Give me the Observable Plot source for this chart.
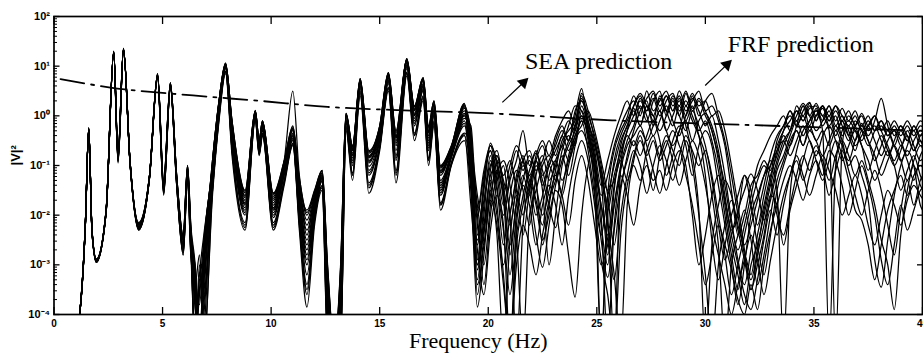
<!DOCTYPE html>
<html><head><meta charset="utf-8">
<script src="https://cdn.jsdelivr.net/npm/d3@7"></script>
<script src="https://cdn.jsdelivr.net/npm/@observablehq/plot@0.6"></script>
<style>html,body{margin:0;padding:0;background:#fff;} #chart svg{display:block;}</style>
</head><body><div id="chart"></div>
<script>
// Frequency grid (Hz) at which the FRF curves were read
const freq = [1.0,1.45,1.6,1.75,1.95,2.4,2.75,2.95,3.2,3.5,3.9,4.4,4.77,5.05,5.36,5.65,5.95,6.15,6.3,6.5,6.7,6.9,7.3,7.6,7.9,8.2,8.8,9.27,9.45,9.6,10.1,10.6,11.0,11.3,11.65,12.0,12.35,12.6,12.9,13.2,13.45,13.75,14.1,14.5,15.0,15.4,15.75,16.25,16.6,17.0,17.25,17.5,17.8,18.3,18.9,
19.2,19.5,19.8,20.1,20.4,20.7,21.0,21.3,21.6,21.9,22.2,22.5,22.8,23.1,23.4,23.7,24.0,24.3,24.6,24.9,25.2,25.5,25.8,26.1,26.4,26.7,27.0,27.3,27.6,27.9,28.2,28.5,28.8,29.1,29.4,29.7,30.0,30.3,30.6,30.9,31.2,31.5,31.8,32.1,32.4,32.7,33.0,33.3,33.6,33.9,34.2,34.5,34.8,35.1,35.4,35.7,36.0,36.3,36.6,36.9,37.2,37.5,37.8,38.1,38.4,38.7,39.0,39.3,39.6,39.9,40.2];

// FRF predictions: exponent of |V|^2 (log10) at each grid frequency
const frf01 = [-4.6,-2.1,-0.24,-2.3,-2.88,-1.9,1.3,-0.75,1.36,-0.9,-2.15,-1.2,0.85,-1.3,0.67,-1.2,-2.4,-1.0,-2.2,-3.0,-4.6,-3.0,-0.9,0.3,1.05,-0.1,-1.5,0.1,-0.5,-0.1,-1.55,-0.9,0.5,-1.2,-1.9,-1.5,-1.1,-3.0,-4.6,-3.0,0.05,-0.6,0.75,-0.7,-0.2,0.87,-0.3,1.15,0.2,0.77,-0.2,0.3,-1.0,-0.6,0.25,
-1.2,-2.6,-1.5,-0.6,-1.2,-2.0,-1.3,-0.9,-0.3,-1.0,-0.7,-1.2,-0.9,-0.6,-0.3,-0.5,0.0,0.55,-0.3,-0.8,-1.6,-1.2,-0.6,-0.2,0.1,0.3,0.0,0.5,0.1,0.3,0.5,0.2,0.4,0.1,0.3,0.5,0.1,0.2,-0.1,-0.6,-1.5,-2.4,-2.0,-1.4,-1.2,-0.9,-1.1,-0.5,-0.2,0.0,-0.2,0.1,0.27,-0.1,0.2,-0.2,0.0,-0.4,-0.2,-0.5,-0.15,-0.4,-0.1,0.35,-0.2,-0.6,-0.3,-0.5,-0.3,-0.6,-0.5];
const frf02 = [-4.6,-2.12,-0.26,-2.32,-2.9,-1.92,1.28,-0.8,1.34,-0.92,-2.2,-1.22,0.82,-1.38,0.64,-1.25,-2.5,-1.05,-2.4,-3.6,-3.8,-2.6,-1.0,0.25,1.0,-0.2,-1.65,0.05,-0.55,-0.15,-1.7,-1.0,-0.3,-1.5,-2.3,-1.7,-1.2,-3.4,-4.6,-3.5,0.0,-0.7,0.7,-0.85,-0.3,0.8,-0.45,1.1,0.1,0.7,-0.35,0.2,-1.2,-0.7,0.1,
-0.6,-3.0,-1.8,-0.8,-1.8,-3.2,-4.6,-2.2,-1.3,-0.9,-1.4,-2.0,-1.5,-0.9,-0.6,-0.2,0.2,0.1,-0.5,-1.5,-4.6,-2.0,-0.9,-0.4,-0.1,0.2,0.4,0.1,0.35,0.0,0.3,0.45,0.1,0.3,0.0,-0.4,-1.2,-2.5,-3.3,-2.6,-2.0,-1.6,-1.2,-1.5,-2.2,-1.6,-1.0,-0.6,-0.3,-0.1,0.1,-0.1,0.15,0.2,-0.1,0.1,-0.3,-0.1,-0.4,-0.1,-0.3,-0.6,-0.3,-0.1,-0.4,-0.3,-0.6,-0.4,-0.7,-0.5,-0.8];
const frf03 = [-4.6,-2.1,-0.25,-2.3,-2.92,-1.9,1.3,-0.85,1.35,-0.9,-2.25,-1.2,0.84,-1.45,0.62,-1.3,-2.6,-1.1,-2.5,-4.6,-3.2,-2.4,-1.1,0.2,1.02,-0.3,-1.8,0.08,-0.6,-0.2,-1.85,-1.1,-0.4,-1.7,-2.7,-1.8,-1.25,-3.8,-4.6,-3.8,-0.1,-0.8,0.65,-0.95,-0.35,0.75,-0.6,1.05,0.0,0.6,-0.5,0.1,-1.4,-0.8,0.0,
-0.9,-3.6,-2.4,-1.2,-1.0,-1.6,-2.6,-1.8,-1.2,-1.6,-1.0,-1.5,-3.0,-2.0,-1.0,-0.6,-0.3,0.3,-0.1,-0.6,-1.3,-2.8,-1.8,-1.0,-0.5,-0.2,0.2,-0.1,0.3,0.5,0.0,0.3,0.0,0.45,0.1,0.3,0.0,-0.3,-0.9,-1.8,-2.6,-3.2,-3.8,-3.0,-2.6,-2.0,-1.4,-0.9,-0.5,-0.3,0.0,0.25,0.0,-0.3,-0.1,0.2,-0.2,0.0,-0.3,-0.6,-0.4,-0.2,-0.5,-0.8,-0.5,-0.3,-0.5,-0.8,-0.5,-0.3,-0.4];
const frf04 = [-4.6,-2.15,-0.28,-2.35,-2.95,-1.95,1.25,-0.95,1.32,-0.95,-2.3,-1.25,0.78,-1.6,0.55,-1.4,-2.8,-1.3,-2.8,-3.4,-2.8,-4.6,-1.6,-0.1,0.85,-0.8,-2.3,-0.1,-0.8,-0.4,-2.3,-1.4,-0.6,-2.3,-3.85,-2.2,-1.5,-4.6,-4.6,-4.6,-0.3,-1.3,0.4,-1.56,-0.7,0.5,-1.35,0.8,-0.5,0.3,-1.0,-0.2,-1.9,-1.0,-0.5,
-1.5,-3.85,-2.8,-1.5,-2.4,-4.6,-2.5,-1.6,-2.0,-1.3,-1.8,-2.5,-2.0,-1.5,-1.8,-2.8,-3.65,-2.0,-1.0,-0.6,-1.2,-2.2,-3.2,-4.6,-1.8,-0.9,-0.5,-0.9,-1.5,-0.8,-0.4,-0.7,-1.0,-0.5,-1.0,-2.0,-3.2,-4.6,-3.0,-2.2,-1.7,-2.3,-2.9,-3.5,-2.8,-2.2,-1.6,-1.8,-2.6,-1.9,-1.4,-0.9,-0.5,-0.9,-1.3,-0.9,-0.5,-0.8,-1.3,-1.9,-2.1,-2.6,-3.3,-2.6,-1.9,-1.5,-1.2,-1.6,-1.2,-1.0,-1.2];
const frf05 = [-4.6,-2.1,-0.24,-2.3,-2.9,-1.9,1.3,-0.78,1.36,-0.9,-2.18,-1.2,0.83,-1.35,0.66,-1.22,-2.45,-1.02,-2.3,-3.3,-4.6,-3.2,-0.95,0.28,1.04,-0.15,-1.6,0.1,-0.52,-0.12,-1.62,-0.95,-0.25,-1.4,-2.1,-1.6,-1.15,-3.2,-4.6,-3.2,0.03,-0.65,0.72,-0.8,-0.25,0.84,-0.4,1.12,0.15,0.74,-0.3,0.25,-1.1,-0.65,0.2,
-0.4,-2.2,-3.0,-1.8,-0.9,-1.3,-2.0,-4.6,-2.2,-1.4,-0.9,-1.3,-1.8,-2.25,-1.5,-0.8,-0.4,-0.2,0.1,-0.3,-0.9,-1.6,-2.6,-1.5,-0.8,-0.3,0.1,0.3,-0.2,0.1,-0.3,0.0,0.3,-0.2,-0.8,-1.9,-4.6,-2.6,-1.8,-1.3,-1.6,-2.2,-2.6,-2.2,-1.7,-1.2,-0.9,-1.5,-4.6,-1.6,-0.7,-0.3,-0.1,0.1,-0.3,-4.6,-1.0,-0.3,-0.1,-0.3,-0.6,-0.9,-1.3,-1.0,-0.7,-1.0,-1.5,-1.1,-0.8,-1.2,-1.5];
const frf06 = [-4.6,-2.12,-0.25,-2.32,-2.9,-1.92,1.29,-0.82,1.35,-0.92,-2.22,-1.22,0.8,-1.42,0.6,-1.28,-2.55,-1.08,-2.45,-4.6,-3.5,-2.5,-1.05,0.22,1.0,-0.25,-1.75,0.06,-0.58,-0.18,-1.8,-1.05,-0.35,-1.6,-2.5,-1.75,-1.22,-3.6,-4.6,-3.6,-0.05,-0.75,0.68,-0.9,-0.32,0.78,-0.5,1.08,0.05,0.65,-0.4,0.15,-1.3,-0.75,0.05,
-0.5,-2.9,-1.3,-0.7,-1.4,-2.6,-1.6,-1.1,-1.5,-2.2,-1.2,-0.8,-1.3,-1.0,-0.5,-0.3,-0.1,0.35,0.0,-0.4,-1.0,-1.9,-1.2,-0.7,-0.3,0.0,0.3,0.0,-0.4,-0.1,0.2,-0.1,-0.4,0.0,0.35,0.1,-0.2,0.0,-0.5,-1.2,-2.1,-2.9,-3.4,-2.7,-2.0,-1.4,-0.8,-0.4,-0.2,0.1,-0.2,0.0,-0.3,0.0,0.2,-0.1,0.1,-0.2,-0.5,-0.2,0.0,-0.3,-0.2,-0.5,-0.8,-0.5,-0.2,-0.4,-0.7,-0.4,-0.3];
const frf07 = [-4.6,-2.14,-0.27,-2.34,-2.93,-1.94,1.27,-0.88,1.33,-0.94,-2.27,-1.24,0.8,-1.5,0.58,-1.35,-2.7,-1.2,-2.6,-3.0,-4.6,-4.0,-1.3,0.05,0.95,-0.5,-2.0,0.0,-0.7,-0.3,-2.0,-1.2,-0.45,-1.9,-3.0,-1.95,-1.3,-4.0,-4.6,-4.2,-0.15,-1.0,0.55,-1.2,-0.5,0.65,-0.9,0.95,-0.2,0.5,-0.7,0.0,-1.6,-0.85,-0.2,
-1.0,-3.3,-2.0,-0.9,-1.5,-2.3,-3.6,-2.4,-1.6,-1.1,-0.75,-1.1,-1.6,-1.3,-0.8,-1.2,-0.6,0.0,-0.4,-1.0,-2.0,-4.6,-2.2,-1.1,-0.6,-0.4,-0.2,-0.6,-1.1,-1.56,-1.0,-0.5,-0.2,-0.6,-1.2,-0.6,-0.3,-0.6,-1.4,-2.2,-3.0,-3.8,-3.0,-2.0,-1.6,-1.2,-1.0,-0.7,-0.5,-0.8,-0.5,-0.2,-0.5,-0.8,-0.4,-0.2,-0.5,-0.9,-0.6,-0.3,-0.6,-1.1,-0.7,-0.4,-0.7,-1.0,-0.7,-0.3,-0.6,-0.9,-0.7];
const frf08 = [-4.6,-2.13,-0.26,-2.33,-2.92,-1.93,1.28,-0.9,1.34,-0.93,-2.24,-1.23,0.81,-1.48,0.6,-1.32,-2.65,-1.15,-2.55,-3.8,-4.6,-3.0,-1.2,0.1,0.97,-0.4,-1.9,0.02,-0.65,-0.25,-1.95,-1.15,-0.5,-1.8,-2.9,-1.9,-1.28,-3.9,-4.6,-4.0,-0.12,-0.9,0.6,-1.1,-0.45,0.7,-0.8,1.0,-0.1,0.55,-0.6,0.05,-1.5,-0.8,-0.1,
-0.8,-2.0,-3.4,-2.0,-1.2,-0.9,-1.4,-2.4,-4.6,-2.0,-1.5,-1.0,-0.8,-1.1,-1.6,-1.0,-0.5,-0.3,-0.6,-1.1,-1.8,-2.5,-3.3,-2.0,-1.2,-0.7,-1.0,-1.56,-1.0,-0.6,-0.9,-1.3,-0.8,-0.4,-0.7,-1.0,-0.7,-1.2,-2.0,-2.8,-3.6,-3.0,-2.4,-1.8,-1.3,-1.0,-1.3,-2.0,-2.4,-1.8,-1.2,-0.8,-1.1,-0.7,-0.9,-1.3,-0.8,-0.5,-0.8,-1.2,-0.9,-1.3,-1.8,-2.5,-3.0,-3.9,-2.4,-1.5,-1.0,-1.4,-1.6];
const frf09 = [-4.6,-2.1,-0.24,-2.3,-2.89,-1.9,1.3,-0.76,1.36,-0.9,-2.17,-1.2,0.84,-1.32,0.66,-1.21,-2.42,-1.01,-2.25,-3.1,-4.6,-3.4,-0.92,0.29,1.06,-0.12,-1.55,0.11,-0.5,-0.1,-1.58,-0.92,-0.2,-1.3,-2.0,-1.55,-1.12,-3.1,-4.6,-3.1,0.04,-0.62,0.74,-0.75,-0.22,0.86,-0.35,1.14,0.18,0.76,-0.25,0.28,-1.05,-0.62,0.22,
-1.3,-2.5,-1.7,-1.0,-0.8,-1.5,-2.8,-1.7,-1.0,-1.3,-2.0,-1.6,-1.0,-0.7,-0.4,-0.1,-0.3,0.2,-0.2,-0.5,-1.1,-1.5,-1.0,-0.5,-0.2,0.15,-0.2,0.2,0.0,-0.3,0.0,0.35,0.0,-0.3,0.1,-0.2,-0.6,-1.3,-2.2,-2.9,-2.4,-1.9,-1.5,-1.17,-1.5,-2.1,-1.7,-1.1,-0.8,-0.4,-0.1,-0.4,-0.1,0.1,0.0,-0.3,-4.6,-0.6,0.0,-0.2,-0.5,-0.2,0.0,-0.3,-0.6,-0.9,-0.6,-0.9,-1.3,-0.8,-0.6];
const frf10 = [-4.6,-2.14,-0.27,-2.34,-2.94,-1.94,1.26,-0.92,1.33,-0.94,-2.28,-1.24,0.79,-1.55,0.57,-1.38,-2.75,-1.25,-2.7,-4.6,-3.0,-3.6,-1.45,0.0,0.9,-0.65,-2.15,-0.05,-0.75,-0.35,-2.15,-1.3,-0.55,-2.1,-3.4,-2.05,-1.4,-4.3,-4.6,-4.4,-0.2,-1.15,0.5,-1.35,-0.6,0.58,-1.1,0.88,-0.35,0.4,-0.85,-0.1,-1.75,-0.95,-0.35,
-0.7,-3.1,-2.2,-1.3,-2.0,-3.0,-2.0,-1.3,-0.9,-1.5,-2.4,-3.05,-2.2,-1.4,-0.9,-0.5,-0.2,0.0,-0.4,-1.3,-2.5,-3.25,-2.3,-1.4,-0.9,-0.5,-0.8,-0.4,-0.1,-0.5,-1.2,-0.8,-0.3,-0.1,-0.5,-0.1,0.05,-0.2,-0.7,-1.6,-2.3,-2.0,-1.2,-1.8,-2.6,-3.2,-2.4,-1.5,-1.0,-0.6,-0.3,-0.6,-0.3,-0.5,-0.8,-0.5,-0.2,-0.5,-1.0,-0.8,-1.2,-1.7,-2.9,-3.45,-2.5,-1.6,-1.0,-0.7,-1.0,-1.8,-2.0];
const frf11 = [-4.6,-2.11,-0.25,-2.31,-2.91,-1.91,1.29,-0.8,1.35,-0.91,-2.2,-1.21,0.82,-1.4,0.63,-1.26,-2.5,-1.06,-2.35,-3.5,-4.6,-2.8,-1.0,0.26,1.03,-0.18,-1.7,0.07,-0.56,-0.16,-1.75,-1.02,-0.28,-1.45,-2.2,-1.65,-1.18,-3.3,-4.6,-3.3,0.01,-0.68,0.71,-0.82,-0.28,0.82,-0.42,1.11,0.12,0.72,-0.32,0.22,-1.15,-0.68,0.15,
-0.3,-2.4,-1.4,-0.55,-1.0,-1.8,-1.2,-0.7,-1.1,-0.8,-1.1,-0.9,-0.5,-0.8,-0.4,-0.7,-0.2,0.4,-0.2,-0.9,-4.6,-1.6,-0.7,-0.3,-0.03,0.4,0.15,0.35,0.5,0.2,0.4,0.1,0.5,0.2,0.45,0.2,0.3,0.0,0.1,-0.3,-1.0,-1.8,-2.7,-3.5,-3.0,-2.4,-1.6,-1.0,-0.6,-0.3,0.1,-0.1,0.2,0.0,0.15,-0.1,0.2,0.0,-0.2,0.0,-0.3,-0.1,-0.3,-0.2,-0.4,-0.2,-0.4,-0.2,-0.4,-0.2,-0.3];
const frf12 = [-4.6,-2.15,-0.28,-2.35,-2.95,-1.95,1.25,-0.93,1.32,-0.95,-2.3,-1.25,0.77,-1.58,0.56,-1.4,-2.8,-1.28,-2.75,-3.2,-4.6,-4.6,-1.5,-0.05,0.88,-0.7,-2.25,-0.08,-0.78,-0.38,-2.25,-1.35,-0.58,-2.2,-3.6,-2.1,-1.45,-4.5,-4.6,-4.6,-0.25,-1.2,0.45,-1.45,-0.65,0.55,-1.2,0.85,-0.4,0.35,-0.9,-0.15,-1.8,-0.98,-0.4,
-1.1,-2.7,-3.6,-2.3,-1.6,-2.2,-4.6,-2.6,-1.8,-1.2,-1.7,-2.2,-1.2,-0.9,-1.3,-0.9,-0.4,-0.1,-0.7,-1.6,-2.4,-1.6,-1.3,-0.9,-1.3,-0.8,-0.4,-0.8,-0.5,-0.9,-0.6,-0.3,-0.6,-1.0,-2.0,-3.0,-2.4,-1.6,-1.2,-1.7,-2.4,-3.0,-3.6,-3.9,-3.3,-2.5,-1.9,-2.4,-1.8,-1.2,-0.8,-1.2,-1.6,-1.2,-0.8,-1.1,-1.5,-2.0,-1.6,-1.2,-1.6,-2.2,-2.6,-2.0,-1.5,-1.8,-2.2,-1.7,-1.4,-1.6,-1.8];
const frf13 = [-4.6,-2.11,-0.25,-2.31,-2.9,-1.91,1.29,-0.79,1.35,-0.91,-2.19,-1.21,0.83,-1.37,0.65,-1.24,-2.48,-1.04,-2.38,-3.4,-4.6,-3.6,-0.98,0.27,1.03,-0.17,-1.62,0.09,-0.53,-0.13,-1.66,-0.97,-0.26,-1.42,-2.4,-1.62,-1.16,-3.25,-4.6,-3.4,0.02,-0.66,0.72,-0.84,-0.27,0.83,-0.44,1.12,0.13,0.73,-0.33,0.23,-1.12,-0.66,0.18,
-0.9,-2.0,-1.2,-0.7,-1.3,-1.0,-1.9,-1.2,-0.8,-1.2,-0.9,-1.4,-1.0,-1.3,-0.7,-0.4,-0.6,0.1,-0.3,-1.1,-2.2,-3.0,-1.5,-0.6,-0.2,0.1,-0.2,0.2,-0.1,0.4,0.1,-0.2,0.2,-0.1,0.2,-0.3,-0.1,-0.5,-1.1,-2.0,-2.8,-3.5,-2.8,-3.2,-2.4,-1.8,-1.2,-0.8,-0.4,-0.6,-0.2,0.2,-0.2,0.15,-0.2,0.0,-0.4,-0.1,-0.4,-0.7,-0.3,-0.5,-0.9,-0.6,-0.3,-0.6,-0.9,-0.6,-0.2,-0.5,-0.7];
const frf14 = [-4.6,-2.13,-0.27,-2.33,-2.93,-1.93,1.27,-0.87,1.33,-0.93,-2.26,-1.23,0.8,-1.52,0.59,-1.34,-2.68,-1.18,-2.58,-4.6,-3.3,-3.2,-1.25,0.08,0.96,-0.45,-1.95,0.01,-0.68,-0.28,-2.05,-1.18,-0.48,-1.95,-3.2,-2.0,-1.32,-4.1,-4.6,-4.1,-0.14,-0.95,0.58,-1.15,-0.48,0.68,-0.85,0.98,-0.15,0.52,-0.65,0.02,-1.55,-0.82,-0.15,
-1.4,-3.4,-2.6,-1.6,-1.1,-1.7,-3.2,-2.0,-1.4,-1.8,-2.6,-1.8,-1.4,-1.8,-2.6,-1.6,-0.9,-0.5,-0.9,-1.8,-2.9,-3.6,-4.6,-2.4,-1.4,-1.0,-1.3,-0.7,-0.4,-0.8,-0.5,-0.9,-1.4,-0.9,-0.5,-0.8,-1.4,-2.2,-2.8,-3.4,-4.0,-3.4,-2.9,-2.4,-2.9,-3.6,-2.9,-2.2,-1.6,-1.2,-0.9,-1.3,-0.9,-0.6,-1.0,-1.6,-1.1,-0.7,-1.1,-1.6,-2.0,-1.5,-1.1,-1.5,-2.2,-2.8,-1.9,-1.3,-1.8,-1.3,-1.1];
const frf15 = [-4.6,-2.12,-0.26,-2.32,-2.91,-1.92,1.28,-0.84,1.34,-0.92,-2.23,-1.22,0.81,-1.44,0.61,-1.3,-2.58,-1.12,-2.5,-3.9,-4.6,-2.7,-1.08,0.18,0.99,-0.28,-1.78,0.04,-0.6,-0.2,-1.88,-1.08,-0.38,-1.65,-2.6,-1.78,-1.24,-3.7,-4.6,-3.7,-0.08,-0.78,0.66,-0.92,-0.34,0.76,-0.55,1.06,0.02,0.62,-0.45,0.12,-1.35,-0.78,0.02,
-0.6,-1.8,-2.6,-1.4,-0.8,-1.2,-0.9,-1.5,-2.4,-1.5,-0.9,-0.6,-1.0,-0.5,-0.2,-0.5,0.1,0.3,-0.1,-0.7,-1.4,-0.9,-0.4,0.0,0.3,0.0,0.35,0.1,0.45,0.1,0.4,0.1,0.35,0.0,0.4,0.0,0.3,0.45,0.0,-0.5,-1.2,-2.0,-2.8,-3.3,-2.7,-1.9,-1.3,-0.7,-0.3,0.1,-0.1,0.2,0.0,0.25,0.0,0.2,-0.1,0.15,-0.1,0.1,-0.2,0.0,-0.3,-0.1,-0.3,-0.1,-0.3,-0.1,-0.3,-0.1,-0.2];
const frf16 = [-4.6,-2.14,-0.28,-2.34,-2.94,-1.94,1.26,-0.91,1.33,-0.94,-2.29,-1.24,0.79,-1.56,0.57,-1.38,-2.76,-1.26,-2.72,-3.6,-4.6,-3.8,-1.5,-0.02,0.9,-0.68,-2.2,-0.06,-0.76,-0.36,-2.2,-1.32,-0.56,-2.15,-3.5,-2.08,-1.42,-4.4,-4.6,-4.5,-0.22,-1.18,0.48,-1.4,-0.62,0.56,-1.15,0.86,-0.38,0.38,-0.88,-0.12,-1.78,-0.96,-0.38,
-1.8,-3.0,-2.3,-1.7,-2.2,-3.4,-4.6,-3.0,-2.2,-2.6,-3.2,-2.4,-1.7,-1.2,-1.6,-2.2,-1.3,-0.8,-1.3,-2.2,-3.0,-2.6,-1.8,-1.2,-1.6,-2.2,-1.4,-1.0,-1.3,-1.1,-1.5,-1.0,-0.7,-1.2,-1.8,-2.6,-3.4,-2.8,-2.2,-2.6,-3.1,-3.7,-4.0,-3.4,-3.9,-3.0,-2.3,-1.8,-1.3,-1.0,-1.3,-1.7,-1.2,-0.9,-1.2,-0.7,-0.9,-1.4,-2.0,-1.5,-1.0,-1.4,-2.0,-2.9,-3.4,-2.6,-1.8,-2.3,-1.9,-1.5,-1.4];
const frf17 = [-4.6,-2.1,-0.24,-2.3,-2.89,-1.9,1.3,-0.77,1.36,-0.9,-2.16,-1.2,0.85,-1.31,0.67,-1.2,-2.41,-1.0,-2.22,-4.6,-3.6,-2.9,-0.9,0.3,1.06,-0.11,-1.52,0.1,-0.5,-0.1,-1.56,-0.91,-0.22,-1.25,-1.95,-1.52,-1.1,-3.05,-4.6,-3.05,0.05,-0.61,0.75,-0.72,-0.21,0.87,-0.32,1.15,0.19,0.77,-0.22,0.3,-1.02,-0.61,0.24,
-0.5,-1.6,-2.2,-1.1,-0.7,-1.4,-2.2,-1.4,-0.9,-0.7,-1.3,-2.6,-1.8,-1.1,-0.6,-0.9,-0.5,-0.1,-0.3,-0.9,-1.8,-2.4,-1.4,-0.8,-0.4,-0.6,-0.3,-0.5,-0.2,0.1,-0.3,-0.6,-0.3,0.2,-0.1,-0.4,-0.8,-1.6,-2.6,-4.6,-3.0,-2.4,-1.9,-2.5,-3.4,-2.8,-2.0,-1.3,-0.9,-0.5,-0.3,-0.6,-0.2,-0.5,-0.3,-0.6,-0.3,-0.6,-0.9,-0.5,-0.2,-0.5,-0.8,-1.2,-0.9,-0.6,-0.9,-1.3,-0.9,-0.6,-0.9];
const frf18 = [-4.6,-2.13,-0.26,-2.33,-2.92,-1.93,1.28,-0.86,1.34,-0.93,-2.25,-1.23,0.8,-1.47,0.6,-1.31,-2.62,-1.14,-2.52,-3.2,-4.6,-4.3,-1.15,0.12,0.98,-0.35,-1.85,0.03,-0.63,-0.23,-1.9,-1.12,-0.42,-1.75,-2.8,-1.85,-1.26,-3.85,-4.6,-3.9,-0.1,-0.85,0.62,-1.02,-0.4,0.72,-0.7,1.02,-0.05,0.58,-0.55,0.08,-1.45,-0.8,-0.05,
-0.2,-1.9,-1.1,-0.6,-0.9,-1.5,-1.0,-0.6,-0.9,-1.4,-0.8,-0.5,-0.8,-0.4,-0.1,0.1,-0.2,0.45,0.1,-0.5,-1.2,-2.0,-4.6,-1.0,-0.3,0.2,0.45,0.2,0.0,0.35,0.1,0.4,0.2,0.5,0.15,0.35,0.1,-0.3,-0.8,-1.4,-2.2,-2.7,-2.2,-1.6,-1.0,-0.7,-0.4,-0.2,0.0,-0.3,0.2,0.0,0.25,-0.1,0.2,0.0,0.2,-0.1,0.1,-0.2,0.05,-0.2,0.0,-0.3,-0.1,-0.4,-0.2,-0.5,-0.2,-0.4,-0.2];

// SEA prediction (exponent of |V|^2)
const seaFreq = [0.3, 2.6, 6.4, 9.5, 12.6, 15.5, 19.6, 25.7, 33.1, 40];
const seaExp  = [0.74, 0.57, 0.41, 0.3, 0.18, 0.12, 0.06, -0.09, -0.2, -0.3];

// Axes
const xTicks = [0,5,10,15,20,25,30,35,40];
const yTicks = [1e-4,1e-3,1e-2,1e-1,1,10,100];
const yTickLabels = ["10\u207B\u2074","10\u207B\u00B3","10\u207B\u00B2","10\u207B\u00B9","10\u2070","10\u00B9","10\u00B2"];

// Annotations (data coordinates: frequency, exponent)
const labelText = ["SEA prediction","FRF prediction"];
const labelFreq = [21.69, 31.03];
const labelExp  = [0.95, 1.28];
const arrowTailFreq = [20.65, 29.99];
const arrowTailExp  = [0.27, 0.61];
const arrowHeadFreq = [21.62, 30.99];
const arrowHeadExp  = [0.67, 1.03];

const curves = [frf01,frf02,frf03,frf04,frf05,frf06,frf07,frf08,frf09,frf10,frf11,frf12,frf13,frf14,frf15,frf16,frf17,frf18];
const rows = curves.flatMap((c, i) => c.map((e, j) => ({f: freq[j], v: 10 ** e, id: i})));
const seaRows = seaFreq.map((f, i) => ({f, v: 10 ** seaExp[i]}));
const labels = labelText.map((t, i) => ({t, f: labelFreq[i], v: 10 ** labelExp[i]}));
const arrows = arrowTailFreq.map((f, i) => ({f1: f, v1: 10 ** arrowTailExp[i], f2: arrowHeadFreq[i], v2: 10 ** arrowHeadExp[i]}));
const yMinor = [];
for (let k = -4; k < 2; k++) for (let m = 2; m <= 9; m++) yMinor.push(m * 10 ** k);

const W = 923, H = 359, mL = 53.5, mR = 1, mT = 16, mB = 45;
const plotW = W - mL - mR, plotH = H - mT - mB;
const fmtY = d => yTickLabels[yTicks.findIndex(t => Math.abs(Math.log10(t) - Math.log10(d)) < 1e-6)];
const serif = "'Liberation Serif', 'Times New Roman', serif";

const chart = Plot.plot({
  width: W, height: H,
  marginLeft: mL, marginRight: mR, marginTop: mT, marginBottom: mB,
  style: {fontFamily: "'Liberation Sans', Arial, sans-serif", background: "white", color: "black", overflow: "hidden"},
  x: {domain: [0, 40]},
  y: {type: "log", domain: [1e-4, 1e2]},
  marks: [
    Plot.line(rows, {x: "f", y: "v", z: "id", stroke: "black", strokeWidth: 1.25, curve: "monotone-x", clip: true, strokeLinejoin: "round"}),
    Plot.line(seaRows, {x: "f", y: "v", stroke: "black", strokeWidth: 1.8, strokeDasharray: "24,7,3,7", curve: "monotone-x", clip: true}),
    Plot.frame({stroke: "black", strokeWidth: 1.7}),
    Plot.tickX(xTicks, {x: d => d, insetTop: plotH - 7, stroke: "black", strokeWidth: 1.3}),
    Plot.tickX(xTicks, {x: d => d, insetBottom: plotH - 8, stroke: "black", strokeWidth: 1.3}),
    Plot.tickY(yMinor, {y: d => d, insetRight: plotW - 3.5, stroke: "black", strokeWidth: 1}),
    Plot.tickY(yTicks, {y: d => d, insetRight: plotW - 6, stroke: "black", strokeWidth: 1.3}),
    Plot.tickY(yTicks, {y: d => d, insetLeft: plotW - 5, stroke: "black", strokeWidth: 1.3}),
    Plot.axisX({ticks: xTicks, tickSize: 0, tickPadding: 5, fontSize: 10, fontWeight: "bold", label: null, tickFormat: d => String(d)}),
    Plot.axisY({ticks: yTicks, tickSize: 0, tickPadding: 4, fontSize: 11, fontWeight: "bold", label: null, tickFormat: fmtY}),
    Plot.text(["|V|\u00B2"], {text: d => d, frameAnchor: "left", dx: -38, rotate: -90, fontSize: 13, fontWeight: "bold"}),
    Plot.text(["Frequency (Hz)"], {text: d => d, frameAnchor: "bottom", dx: -10, dy: 33, fontSize: 22, fontFamily: serif}),
    Plot.text(labels, {x: "f", y: "v", text: "t", textAnchor: "start", lineAnchor: "bottom", fontSize: 24, fontFamily: serif}),
    Plot.link(arrows, {x1: "f1", y1: "v1", x2: "f2", y2: "v2", stroke: "black", strokeWidth: 1.2}),
    Plot.dot(arrows, {x: "f2", y: "v2", symbol: "triangle", r: 4.5, fill: "black", stroke: "none", rotate: 46})
  ]
});
document.getElementById("chart").append(chart);
</script>
</body></html>
